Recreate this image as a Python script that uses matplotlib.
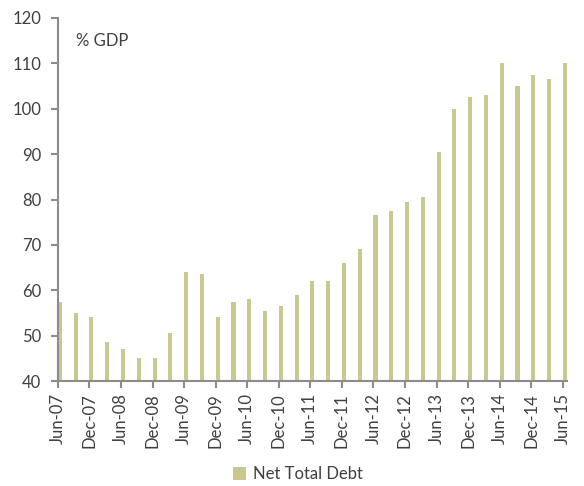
import matplotlib
matplotlib.use("Agg")
import matplotlib.pyplot as plt
import numpy as np

# quarterly data, Jun-07 .. Jun-15
quarters = ["Jun-07", "Sep-07", "Dec-07", "Mar-08", "Jun-08", "Sep-08", "Dec-08", "Mar-09",
            "Jun-09", "Sep-09", "Dec-09", "Mar-10", "Jun-10", "Sep-10", "Dec-10", "Mar-11",
            "Jun-11", "Sep-11", "Dec-11", "Mar-12", "Jun-12", "Sep-12", "Dec-12", "Mar-13",
            "Jun-13", "Sep-13", "Dec-13", "Mar-14", "Jun-14", "Sep-14", "Dec-14", "Mar-15",
            "Jun-15"]
net_total_debt = [57.5, 55.0, 54.0, 48.5, 47.0, 45.0, 45.0, 50.5,
                  64.0, 63.5, 54.0, 57.5, 58.0, 55.5, 56.5, 59.0,
                  62.0, 62.0, 66.0, 69.0, 76.5, 77.5, 79.5, 80.5,
                  90.5, 100.0, 102.5, 103.0, 110.0, 105.0, 107.5, 106.5,
                  110.0]
y_ticks = [40, 50, 60, 70, 80, 90, 100, 110, 120]

bar_color = "#C9C98F"
axis_color = "#8C8C8C"
text_color = "#404040"

plt.rcParams['font.family'] = ['Lato', 'DejaVu Sans']

fig = plt.figure(figsize=(5.84, 4.86), dpi=100)
ax = fig.add_axes([0.099, 0.216, 0.872, 0.747])

x = np.arange(len(quarters))
ax.bar(x, np.array(net_total_debt) - 40, bottom=40, width=0.26, align='edge',
       color=bar_color, label="Net Total Debt")

ax.set_ylim(40, 120)
ax.set_yticks(y_ticks)
ax.set_xlim(0, len(quarters) - 1 + 0.27)
ax.set_xticks(x[::2])
ax.set_xticklabels(quarters[::2], rotation=90)

for side in ["top", "right"]:
    ax.spines[side].set_visible(False)
for side in ["left", "bottom"]:
    ax.spines[side].set_color(axis_color)
    ax.spines[side].set_linewidth(1.5)
ax.tick_params(axis='both', colors=axis_color, width=1.5, length=5,
               labelcolor=text_color, labelsize=12)
ax.tick_params(axis='y', pad=7)

ax.text(0.035, 0.96, "% GDP", transform=ax.transAxes, fontsize=12,
        color=text_color, va='top', ha='left')

fig.legend(loc='lower center', bbox_to_anchor=(0.51, -0.02), frameon=False,
           fontsize=12, handlelength=0.8, handleheight=0.8, handletextpad=0.4,
           borderpad=0.3, labelcolor=text_color)

fig.savefig("out.png", dpi=100)
